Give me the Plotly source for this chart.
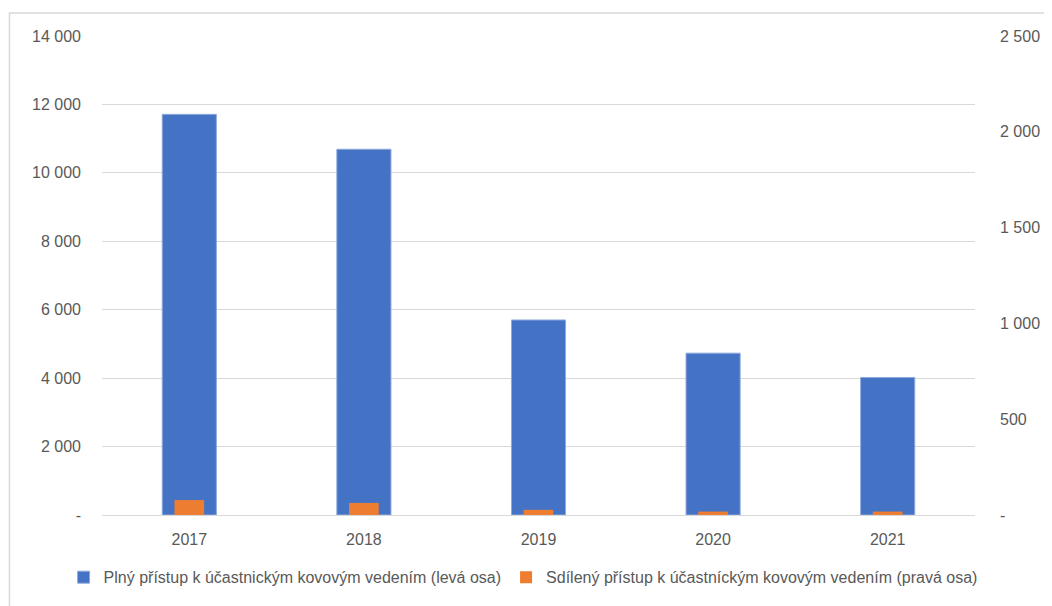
import plotly.graph_objects as go

years = ["2017", "2018", "2019", "2020", "2021"]
full_access = [11710, 10690, 5700, 4730, 4020]
shared_access = [78, 63, 27, 18, 18]

left_ticks = [0, 2000, 4000, 6000, 8000, 10000, 12000, 14000]
left_labels = ["-", "2 000", "4 000", "6 000", "8 000", "10 000", "12 000", "14 000"]
right_ticks = [0, 500, 1000, 1500, 2000, 2500]
right_labels = ["-", "500", "1 000", "1 500", "2 000", "2 500"]

blue = "#4472C4"
orange = "#ED7D31"
grey_text = "#595959"
font_family = "Liberation Sans, Arial"

fig = go.Figure()
fig.add_trace(
    go.Bar(
        x=years,
        y=full_access,
        name="Plný přístup k účastnickým kovovým vedením (levá osa)",
        marker=dict(color=blue, line=dict(color="#8FAADC", width=1)),
        width=0.31,
        yaxis="y",
    )
)
fig.add_trace(
    go.Bar(
        x=years,
        y=shared_access,
        name="Sdílený přístup k účastníckým kovovým vedením (pravá osa)",
        marker=dict(color=orange, line=dict(width=0)),
        width=0.17,
        yaxis="y2",
    )
)

# page body adds an 8px offset, so the figure is 8px smaller
fig.update_layout(
    width=1044,
    height=598,
    barmode="overlay",
    plot_bgcolor="white",
    paper_bgcolor="white",
    margin=dict(l=94, r=71, t=28, b=89),
    font=dict(family=font_family, size=16, color=grey_text),
    xaxis=dict(
        showgrid=False,
        showline=True,
        linecolor="#d9d9d9",
        linewidth=1,
        ticks="",
        ticklabelstandoff=10,
        tickfont=dict(size=16, color=grey_text),
    ),
    yaxis=dict(
        range=[0, 14000],
        tickvals=left_ticks,
        ticktext=left_labels,
        showgrid=True,
        gridcolor="#d9d9d9",
        gridwidth=1,
        zeroline=False,
        showline=False,
        ticks="",
        ticklabelstandoff=20,
        tickfont=dict(size=16, color=grey_text),
    ),
    yaxis2=dict(
        range=[0, 2500],
        tickvals=right_ticks,
        ticktext=right_labels,
        overlaying="y",
        side="right",
        showgrid=False,
        zeroline=False,
        showline=False,
        ticks="",
        ticklabelstandoff=24,
        tickfont=dict(size=16, color=grey_text),
    ),
    legend=dict(
        orientation="h",
        x=-0.044,
        xanchor="left",
        y=-0.13,
        yanchor="middle",
        font=dict(size=16, color=grey_text),
        itemwidth=30,
        traceorder="normal",
    ),
    shapes=[
        dict(
            type="rect",
            xref="paper",
            yref="paper",
            x0=-0.106,
            x1=1.2,
            y0=-0.3,
            y1=1.048,
            line=dict(color="#d9d9d9", width=1.5),
            fillcolor="rgba(0,0,0,0)",
            layer="below",
        )
    ],
)

fig.write_html("out.html")
